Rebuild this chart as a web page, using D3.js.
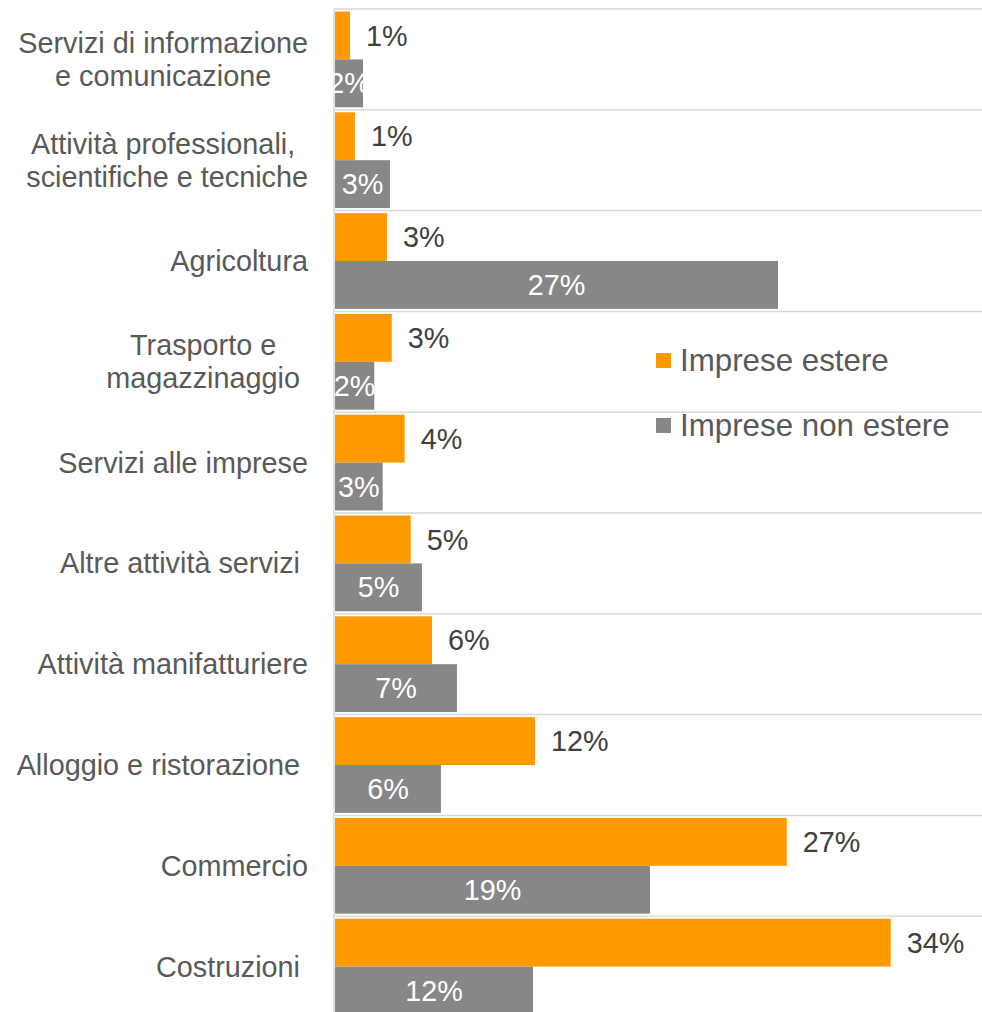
<!DOCTYPE html>
<meta charset="utf-8">
<head>
<title>Imprese estere per settore</title>
<script src="https://cdn.jsdelivr.net/npm/d3@7/dist/d3.min.js"></script>
<style>
body {
    margin: 0;
    background-color: #FFF;
}
text {
    font-family: 'Liberation Sans', Arial, sans-serif;
}
.cat {
    fill: #595959;
    font-size: 28.8px;
    white-space: pre;
}
.val {
    font-size: 28.8px;
}
.grid {
    stroke: #D9D9D9;
    stroke-width: 1.5px;
}
.legend text {
    fill: #595959;
    font-size: 31.3px;
}
</style>
</head>
<body>
<div id="chart"></div>
<script>
    // categories (top to bottom), label lines
    var categories = [
        ["Servizi di informazione", "e comunicazione"],
        ["Attività professionali, ", "scientifiche e tecniche"],
        ["Agricoltura"],
        ["Trasporto e ", "magazzinaggio "],
        ["Servizi alle imprese"],
        ["Altre attività servizi "],
        ["Attività manifatturiere"],
        ["Alloggio e ristorazione "],
        ["Commercio"],
        ["Costruzioni "]
    ];
    var series = ["Imprese estere", "Imprese non estere"];
    var estere    = [0.91, 1.21, 3.15, 3.44, 4.22, 4.59, 5.88, 12.12, 27.38, 33.68];
    var nonEstere = [1.70, 3.33, 26.85, 2.38, 2.89, 5.27, 7.39, 6.42, 19.09, 12.00];
    var colors = ["#FF9900", "#878787"];

    var width = 982, height = 1012;
    var svg = d3.select("#chart").append("svg")
        .attr("width", width)
        .attr("height", height);

    var names = categories.map(function(c){ return c.join(""); });
    var x = d3.scaleLinear().domain([0, 36]).range([335, 335 + 36 * 16.5]);
    var y0 = d3.scaleBand().domain(names).range([9, 1017]).paddingInner(0.05).paddingOuter(0.025);
    var y1 = d3.scaleBand().domain(series).range([0, y0.bandwidth()]);
    var step = y0.step();

    // gridlines between categories
    svg.append("g").selectAll("line")
        .data(d3.range(names.length + 1))
        .enter().append("line")
        .attr("class", "grid")
        .attr("x1", 334).attr("x2", width)
        .attr("y1", function(i){ return 9 + i * step; })
        .attr("y2", function(i){ return 9 + i * step; });

    // vertical axis line
    svg.append("line")
        .attr("class", "grid")
        .attr("x1", 334).attr("x2", 334)
        .attr("y1", 9).attr("y2", height);

    var rows = names.map(function(n, i){
        return {name: n, lines: categories[i], vals: [estere[i], nonEstere[i]]};
    });
    var fmt = function(v){ return Math.round(v) + "%"; };

    var g = svg.append("g").selectAll("g")
        .data(rows)
        .enter().append("g")
        .attr("transform", function(d){ return "translate(0," + y0(d.name) + ")"; });

    g.selectAll("rect")
        .data(function(d){ return d.vals.map(function(v, k){ return {s: series[k], v: v, k: k}; }); })
        .enter().append("rect")
        .attr("x", x(0))
        .attr("y", function(d){ return y1(d.s); })
        .attr("width", function(d){ return x(d.v) - x(0); })
        .attr("height", y1.bandwidth())
        .attr("fill", function(d){ return colors[d.k]; });

    // value labels: outside for estere, inside (white) for non estere
    g.selectAll("text.val")
        .data(function(d){ return d.vals.map(function(v, k){ return {s: series[k], v: v, k: k}; }); })
        .enter().append("text")
        .attr("class", "val")
        .attr("x", function(d){ return d.k == 0 ? x(d.v) + 16 : (x(0) + x(d.v)) / 2; })
        .attr("y", function(d){ return y1(d.s) + y1.bandwidth() / 2; })
        .attr("dy", "0.35em")
        .attr("text-anchor", function(d){ return d.k == 0 ? "start" : "middle"; })
        .attr("fill", function(d){ return d.k == 0 ? "#404040" : "#FFFFFF"; })
        .text(function(d){ return fmt(d.v); });

    // category labels, multi-line centred, block right aligned
    var lineH = 33, right = 308;
    g.each(function(d){
        var grp = d3.select(this);
        var t = grp.append("text").attr("class", "cat").attr("text-anchor", "middle");
        var n = d.lines.length;
        var spans = d.lines.map(function(l, j){
            return t.append("tspan")
                .attr("y", y0.bandwidth() / 2 + (j - (n - 1) / 2) * lineH)
                .attr("dy", "0.35em")
                .text(l);
        });
        var maxW = d3.max(spans, function(s){ return s.node().getComputedTextLength(); });
        spans.forEach(function(s){ s.attr("x", right - maxW / 2); });
    });

    // legend
    var legend = svg.append("g").attr("class", "legend");
    var items = legend.selectAll("g")
        .data(series)
        .enter().append("g")
        .attr("transform", function(d, i){ return "translate(656," + (353 + i * 65) + ")"; });
    items.append("rect")
        .attr("width", 15).attr("height", 15)
        .attr("fill", function(d, i){ return colors[i]; });
    items.append("text")
        .attr("x", 24).attr("y", 7.5)
        .attr("dy", "0.35em")
        .text(function(d){ return d; });
</script>
</body>
